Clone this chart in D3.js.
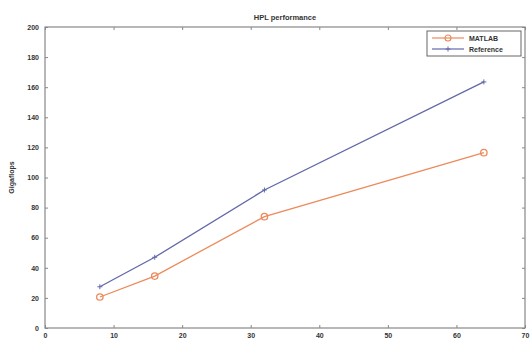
<!DOCTYPE html>
<html>
<head>
<meta charset="utf-8">
<script src="https://cdn.jsdelivr.net/npm/d3@7"></script>
<style>
  body { margin: 0; background: #fff; }
  text { font-family: "Liberation Sans", Arial, sans-serif; font-weight: bold; fill: #333; }
</style>
</head>
<body>
<svg id="chart" width="530" height="341"></svg>
<script>
const procs = [8, 16, 32, 64];
const matlab = [20.6, 34.5, 74, 116.5];
const reference = [27.4, 47, 91.7, 163.5];
const xTicks = [0, 10, 20, 30, 40, 50, 60, 70];
const yTicks = [0, 20, 40, 60, 80, 100, 120, 140, 160, 180, 200];

const svg = d3.select("#chart");
const margin = { top: 27, right: 5, bottom: 13, left: 45 };
const width = 530 - margin.left - margin.right;
const height = 341 - margin.top - margin.bottom;

const g = svg.append("g")
  .attr("transform", `translate(${margin.left},${margin.top})`);

const x = d3.scaleLinear().domain([0, 70]).range([0, width]);
const y = d3.scaleLinear().domain([0, 200]).range([height, 0]);

const axisColor = "#888";

// box around the plot
g.append("rect")
  .attr("width", width).attr("height", height)
  .attr("fill", "none").attr("stroke", axisColor).attr("stroke-width", 1.2);

// ticks pointing inward, on all four sides
const xAxis = g.append("g")
  .attr("transform", `translate(0,${height})`)
  .call(d3.axisBottom(x).tickValues(xTicks).tickSizeInner(-3).tickSizeOuter(0).tickPadding(5));
const xTop = g.append("g")
  .call(d3.axisTop(x).tickValues(xTicks).tickSizeInner(-3).tickSizeOuter(0).tickFormat(""));
const yAxis = g.append("g")
  .call(d3.axisLeft(y).tickValues(yTicks).tickSizeInner(-3).tickSizeOuter(0).tickPadding(6));
const yRight = g.append("g")
  .attr("transform", `translate(${width},0)`)
  .call(d3.axisRight(y).tickValues(yTicks).tickSizeInner(-3).tickSizeOuter(0).tickFormat(""));

[xAxis, xTop, yAxis, yRight].forEach(a => {
  a.select(".domain").remove();
  a.selectAll("line").attr("stroke", axisColor);
  a.selectAll("text").style("font-size", "7px").attr("fill", "#333");
});

// titles
svg.append("text")
  .attr("x", margin.left + width / 2).attr("y", 20)
  .attr("text-anchor", "middle").style("font-size", "7.5px")
  .text("HPL performance");

svg.append("text")
  .attr("transform", `translate(14,${margin.top + height / 2}) rotate(-90)`)
  .attr("text-anchor", "middle").style("font-size", "7px")
  .text("Gigaflops");

svg.append("text")
  .attr("x", margin.left + width / 2).attr("y", 346)
  .attr("text-anchor", "middle").style("font-size", "7px")
  .attr("opacity", 0.5)
  .text("Number of processes");

const orange = "#ec8a5c";
const blue = "#6268a8";

const line = d3.line().x(d => x(d[0])).y(d => y(d[1]));

const refPts = procs.map((p, i) => [p, reference[i]]);
const matPts = procs.map((p, i) => [p, matlab[i]]);

g.append("path").datum(refPts).attr("d", line)
  .attr("fill", "none").attr("stroke", blue).attr("stroke-width", 1.3);
g.selectAll(".refmark").data(refPts).enter().append("path")
  .attr("class", "refmark")
  .attr("transform", d => `translate(${x(d[0])},${y(d[1])})`)
  .attr("d", "M-2.5,0H2.5M0,-2.5V2.5")
  .attr("stroke", blue).attr("stroke-width", 1);

g.append("path").datum(matPts).attr("d", line)
  .attr("fill", "none").attr("stroke", orange).attr("stroke-width", 1.3);
g.selectAll(".matmark").data(matPts).enter().append("circle")
  .attr("class", "matmark")
  .attr("cx", d => x(d[0])).attr("cy", d => y(d[1])).attr("r", 3.2)
  .attr("fill", "none").attr("stroke", orange).attr("stroke-width", 1.3);

// legend
const lg = svg.append("g").attr("transform", "translate(427,31)");
lg.append("rect").attr("width", 94).attr("height", 25)
  .attr("fill", "#fff").attr("stroke", "#666").attr("stroke-width", 1);
const items = [
  { name: "MATLAB", color: orange, marker: "circle" },
  { name: "Reference", color: blue, marker: "plus" }
];
items.forEach((it, i) => {
  const yy = 7 + i * 11;
  lg.append("line").attr("x1", 5).attr("x2", 37).attr("y1", yy).attr("y2", yy)
    .attr("stroke", it.color).attr("stroke-width", 1.2);
  if (it.marker === "circle") {
    lg.append("circle").attr("cx", 21).attr("cy", yy).attr("r", 3)
      .attr("fill", "none").attr("stroke", it.color).attr("stroke-width", 1.2);
  } else {
    lg.append("path").attr("transform", `translate(21,${yy})`)
      .attr("d", "M-2.5,0H2.5M0,-2.5V2.5").attr("stroke", it.color);
  }
  lg.append("text").attr("x", 42).attr("y", yy + 2.5)
    .style("font-size", "7px").text(it.name);
});
</script>
</body>
</html>
